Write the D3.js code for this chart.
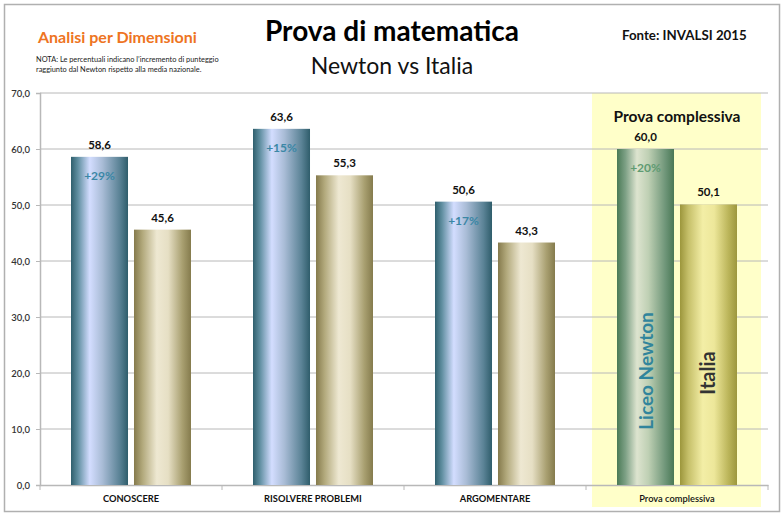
<!DOCTYPE html>
<html>
<head>
<meta charset="utf-8">
<script src="https://cdn.jsdelivr.net/npm/d3@7"></script>
<style>
  body { margin: 0; background: #fff; }
  svg text { font-family: Lato, 'Open Sans', sans-serif; }
</style>
</head>
<body>
<div id="chart"></div>
<script>
// data
const categories = ['CONOSCERE', 'RISOLVERE PROBLEMI', 'ARGOMENTARE', 'Prova complessiva'];
const newton = [58.6, 63.6, 50.6, 60.0];
const italia = [45.6, 55.3, 43.3, 50.1];
const increments = ['+29%', '+15%', '+17%', '+20%'];
const yTicks = [0, 10, 20, 30, 40, 50, 60, 70];
const seriesKeys = ['newton', 'italia'];

const W = 783, H = 515;
const plotLeft = 40, plotRight = 768, plotTop = 93, plotBottom = 485;

const svg = d3.select('#chart').append('svg')
  .attr('width', W).attr('height', H);

// gradients
const defs = svg.append('defs');
function grad(id, stops) {
  const g = defs.append('linearGradient').attr('id', id)
    .attr('x1', '0%').attr('x2', '100%').attr('y1', '0%').attr('y2', '0%');
  stops.forEach(s => g.append('stop').attr('offset', s[0]).attr('stop-color', s[1]));
}
grad('gNewton', [['0%', '#2f5f6d'], ['12%', '#5f8ea0'], ['33%', '#d3ddff'], ['55%', '#a9bcd6'], ['85%', '#5b8396'], ['100%', '#2f5d6b']]);
grad('gItalia', [['0%', '#857a4c'], ['15%', '#b2a97c'], ['40%', '#eee8d2'], ['60%', '#e6dfc4'], ['85%', '#a89f70'], ['100%', '#857b4d']]);
grad('gNewtonTot', [['0%', '#4a7a56'], ['15%', '#7ea186'], ['35%', '#dde4cf'], ['55%', '#bfd0b4'], ['85%', '#6e9578'], ['100%', '#4a7855']]);
grad('gItaliaTot', [['0%', '#9c963c'], ['15%', '#c6c06a'], ['40%', '#f3eea6'], ['60%', '#ede79a'], ['85%', '#bbb55a'], ['100%', '#9d973e']]);

// outer frame
svg.append('rect')
  .attr('x', 4.5).attr('y', 4.5).attr('width', 775).attr('height', 507)
  .attr('fill', '#fff').attr('stroke', '#b0b0b0').attr('stroke-width', 1.5);

// scales
const x = d3.scaleBand().domain(categories).range([plotLeft, plotRight]);
const xi = d3.scaleBand().domain(seriesKeys).range([31, 151]).paddingInner(0.095);
const y = d3.scaleLinear().domain([0, 70]).range([plotBottom, plotTop]);

// yellow highlight band for the total
const last = categories[categories.length - 1];
svg.append('rect')
  .attr('x', x(last) + 6).attr('y', plotTop)
  .attr('width', x.bandwidth() - 13).attr('height', 507 - plotTop)
  .attr('fill', '#ffffc9');

// gridlines
svg.append('g')
  .selectAll('line')
  .data(yTicks.filter(d => d > 0))
  .join('line')
  .attr('x1', plotLeft).attr('x2', plotRight)
  .attr('y1', d => y(d)).attr('y2', d => y(d))
  .attr('stroke', '#b8b8b8').attr('stroke-width', 1);

// y axis
const yAxis = svg.append('g')
  .attr('transform', `translate(${plotLeft},0)`)
  .call(d3.axisLeft(y).tickValues(yTicks).tickSize(4).tickPadding(6)
    .tickFormat(d => d3.format('.1f')(d).replace('.', ',')));
yAxis.select('.domain').attr('stroke', '#b8b8b8').attr('stroke-width', 1.5);
yAxis.selectAll('.tick line').attr('stroke', '#b8b8b8');
yAxis.selectAll('.tick text')
  .attr('fill', '#333').attr('font-size', 9.5).attr('font-weight', 600)
  .style('font-family', 'Lato, sans-serif');

// x axis
const xAxis = svg.append('g')
  .attr('transform', `translate(0,${plotBottom})`)
  .call(d3.axisBottom(x).tickSize(0).tickFormat(''));
xAxis.select('.domain').attr('stroke', '#b8b8b8').attr('stroke-width', 1.5);
svg.append('g')
  .selectAll('line')
  .data(x.domain().map(d => x(d)).concat([plotRight]))
  .join('line')
  .attr('x1', d => d).attr('x2', d => d)
  .attr('y1', plotBottom).attr('y2', plotBottom + 5)
  .attr('stroke', '#b8b8b8');
svg.append('g')
  .selectAll('text')
  .data(categories)
  .join('text')
  .attr('x', d => x(d) + x.bandwidth() / 2)
  .attr('y', 502)
  .attr('text-anchor', 'middle')
  .attr('font-size', 9.3)
  .attr('font-weight', (d, i) => i === categories.length - 1 ? 600 : 700)
  .attr('fill', '#111')
  .text(d => d);

// bars
const rows = categories.map((c, i) => ({ cat: c, i, newton: newton[i], italia: italia[i], inc: increments[i] }));
const fills = {
  newton: i => i === categories.length - 1 ? 'url(#gNewtonTot)' : 'url(#gNewton)',
  italia: i => i === categories.length - 1 ? 'url(#gItaliaTot)' : 'url(#gItalia)',
};
const groups = svg.append('g').selectAll('g')
  .data(rows).join('g')
  .attr('transform', d => `translate(${x(d.cat)},0)`);

seriesKeys.forEach(k => {
  groups.append('rect')
    .attr('x', xi(k)).attr('width', xi.bandwidth())
    .attr('y', d => y(d[k])).attr('height', d => y(0) - y(d[k]))
    .attr('fill', d => fills[k](d.i));
  groups.append('text')
    .attr('x', xi(k) + xi.bandwidth() / 2)
    .attr('y', d => y(d[k]) - 8)
    .attr('text-anchor', 'middle')
    .attr('font-size', 11.5).attr('font-weight', 700).attr('fill', '#111')
    .text(d => d3.format('.1f')(d[k]).replace('.', ','));
});

// increments inside newton bars
groups.append('text')
  .attr('x', xi('newton') + xi.bandwidth() / 2)
  .attr('y', d => y(d.newton) + 23)
  .attr('text-anchor', 'middle')
  .attr('font-size', 12).attr('font-weight', 700)
  .attr('fill', d => d.i === categories.length - 1 ? '#5f9b72' : '#3b87a6')
  .text(d => d.inc);

// series names rotated inside the total bars
const lastRow = rows[rows.length - 1];
const gx = x(lastRow.cat);
svg.append('text')
  .attr('transform', `translate(${gx + xi('newton') + xi.bandwidth() / 2 + 7},371) rotate(-90)`)
  .attr('text-anchor', 'middle')
  .attr('font-size', 19).attr('font-weight', 700).attr('fill', '#31859c')
  .text('Liceo Newton');
svg.append('text')
  .attr('transform', `translate(${gx + xi('italia') + xi.bandwidth() / 2 + 7},373) rotate(-90)`)
  .attr('text-anchor', 'middle')
  .attr('font-size', 20).attr('font-weight', 700).attr('fill', '#333')
  .text('Italia');

svg.append('text')
  .attr('x', gx + x.bandwidth() / 2).attr('y', 122)
  .attr('text-anchor', 'middle')
  .attr('font-size', 15.5).attr('font-weight', 700).attr('fill', '#111')
  .text('Prova complessiva');

// titles
svg.append('text')
  .attr('x', 392).attr('y', 41).attr('text-anchor', 'middle')
  .attr('font-size', 28).attr('font-weight', 700).attr('fill', '#000')
  .text('Prova di matematica');
svg.append('text')
  .attr('x', 392).attr('y', 74).attr('text-anchor', 'middle')
  .attr('font-size', 23).attr('fill', '#111')
  .text('Newton vs Italia');
svg.append('text')
  .attr('x', 38).attr('y', 43)
  .attr('font-size', 16).attr('font-weight', 700).attr('fill', '#ee7422')
  .text('Analisi per Dimensioni');
svg.append('text')
  .attr('x', 36).attr('y', 62)
  .attr('font-size', 7.4).attr('fill', '#222')
  .text('NOTA: Le percentuali indicano l\u2019incremento di punteggio');
svg.append('text')
  .attr('x', 36).attr('y', 72)
  .attr('font-size', 7.4).attr('fill', '#222')
  .text('raggiunto dal Newton rispetto alla media nazionale.');
svg.append('text')
  .attr('x', 622).attr('y', 40)
  .attr('font-size', 13.3).attr('font-weight', 700).attr('fill', '#111')
  .text('Fonte: INVALSI 2015');
</script>
</body>
</html>
